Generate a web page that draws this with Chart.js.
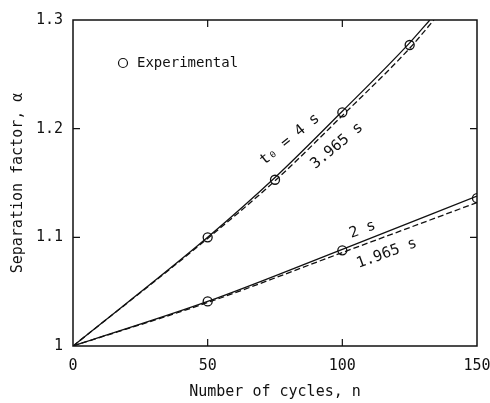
<!DOCTYPE html>
<html>
<head>
<meta charset="utf-8">
<script src="https://cdn.jsdelivr.net/npm/chart.js@4.4.1/dist/chart.umd.min.js"></script>
<style>
  html, body { margin: 0; padding: 0; background: #fff; }
  #wrap { width: 490px; height: 403px; }
</style>
</head>
<body>
<div id="wrap"><canvas id="myChart"></canvas></div>
<script>
// experimental points
let expCyclesA = [50, 75, 100, 125];
let expAlphaA = [1.100, 1.153, 1.215, 1.277];
let expCyclesB = [50, 100, 150];
let expAlphaB = [1.041, 1.088, 1.136];

// calculated curves
let cyc4s = [0, 50, 75, 100, 125, 132.5];
let alpha4s = [1.0, 1.100, 1.155, 1.216, 1.279, 1.300];
let cyc3965 = [0, 50, 75, 100, 125, 134];
let alpha3965 = [1.0, 1.099, 1.152, 1.212, 1.274, 1.300];
let cyc2s = [0, 50, 100, 150];
let alpha2s = [1.0, 1.041, 1.089, 1.138];
let cyc1965 = [0, 50, 100, 150];
let alpha1965 = [1.0, 1.040, 1.086, 1.132];

let xTicks = [0, 50, 100, 150];
let yTicks = [1, 1.1, 1.2, 1.3];

// curve labels: [text, n, alpha, angle]
let curveLabels = [
  ['t\u2080 = 4 s', 80.5, 1.190, -39],
  ['3.965 s', 98.0, 1.184, -40],
  ['2 s', 107.5, 1.107, -20],
  ['1.965 s', 116.5, 1.085, -20]
];

const FONT = '"DejaVu Sans Mono", "Liberation Mono", monospace';

function pts(xs, ys) {
  return xs.map((x, i) => ({ x: x, y: ys[i] }));
}

function lineSet(xs, ys, dash) {
  return {
    data: pts(xs, ys),
    showLine: true,
    borderColor: '#111',
    borderWidth: 1.3,
    borderDash: dash,
    pointRadius: 0,
    cubicInterpolationMode: 'monotone',
    fill: false
  };
}

function markSet(xs, ys) {
  return {
    data: pts(xs, ys),
    showLine: false,
    pointRadius: 4.5,
    pointBorderWidth: 1.3,
    pointBorderColor: '#111',
    pointBackgroundColor: '#fff'
  };
}

// box, inward ticks, legend and curve labels
const extras = {
  id: 'extras',
  afterDatasetsDraw(chart) {
    const c = chart.ctx;
    const a = chart.chartArea;
    const xs = chart.scales.x, ys = chart.scales.y;
    c.save();
    c.strokeStyle = '#111';
    c.lineWidth = 1.5;
    c.strokeRect(a.left, a.top, a.right - a.left, a.bottom - a.top);
    c.lineWidth = 1.2;
    c.beginPath();
    xTicks.slice(1, -1).forEach(v => {
      let p = xs.getPixelForValue(v);
      c.moveTo(p, a.bottom); c.lineTo(p, a.bottom - 7);
      c.moveTo(p, a.top); c.lineTo(p, a.top + 7);
    });
    yTicks.slice(1, -1).forEach(v => {
      let p = ys.getPixelForValue(v);
      c.moveTo(a.left, p); c.lineTo(a.left + 7, p);
      c.moveTo(a.right, p); c.lineTo(a.right - 7, p);
    });
    c.stroke();

    // legend
    c.beginPath();
    c.arc(a.left + 50, a.top + 43, 4.5, 0, Math.PI * 2);
    c.fillStyle = '#fff';
    c.fill();
    c.stroke();
    c.fillStyle = '#111';
    c.font = '14px ' + FONT;
    c.textBaseline = 'middle';
    c.textAlign = 'left';
    c.fillText('Experimental', a.left + 64, a.top + 43);

    // curve labels
    c.font = '15px ' + FONT;
    c.textAlign = 'center';
    curveLabels.forEach(l => {
      c.save();
      c.translate(xs.getPixelForValue(l[1]), ys.getPixelForValue(l[2]));
      c.rotate(l[3] * Math.PI / 180);
      c.fillText(l[0], 0, 0);
      c.restore();
    });
    c.restore();
  }
};

let ctx = document.getElementById('myChart').getContext('2d');

let myChart = new Chart(ctx, {
  type: 'scatter',
  data: {
    datasets: [
      lineSet(cyc4s, alpha4s, []),
      lineSet(cyc3965, alpha3965, [6, 3]),
      lineSet(cyc2s, alpha2s, []),
      lineSet(cyc1965, alpha1965, [6, 3]),
      markSet(expCyclesA, expAlphaA),
      markSet(expCyclesB, expAlphaB)
    ]
  },
  plugins: [extras],
  options: {
    responsive: true,
    maintainAspectRatio: false,
    animation: false,
    layout: { padding: { left: 0, top: 20, right: 0, bottom: 0 } },
    plugins: {
      legend: { display: false },
      tooltip: { enabled: false }
    },
    scales: {
      x: {
        type: 'linear',
        min: 0,
        max: 150,
        afterFit: (s) => { s.height = 57; s.paddingRight = 13; s.paddingLeft = 0; },
        afterBuildTicks: (s) => { s.ticks = xTicks.map(v => ({ value: v })); },
        grid: { display: false, drawTicks: false },
        border: { display: false },
        ticks: {
          color: '#111',
          padding: 11,
          font: { family: FONT, size: 15 }
        },
        title: {
          display: true,
          text: 'Number of cycles, n',
          color: '#111',
          padding: { top: 0, bottom: 2 },
          font: { family: FONT, size: 15 }
        }
      },
      y: {
        type: 'linear',
        min: 1,
        max: 1.3,
        afterFit: (s) => { s.width = 73; },
        afterBuildTicks: (s) => { s.ticks = yTicks.map(v => ({ value: v })); },
        grid: { display: false, drawTicks: false },
        border: { display: false },
        ticks: {
          color: '#111',
          padding: 10,
          font: { family: FONT, size: 15 },
          callback: (v) => String(Number(v.toFixed(1)))
        },
        title: {
          display: true,
          text: 'Separation factor, \u03b1',
          color: '#111',
          padding: { top: 9, bottom: 0 },
          font: { family: FONT, size: 15 }
        }
      }
    }
  }
});
</script>
</body>
</html>
